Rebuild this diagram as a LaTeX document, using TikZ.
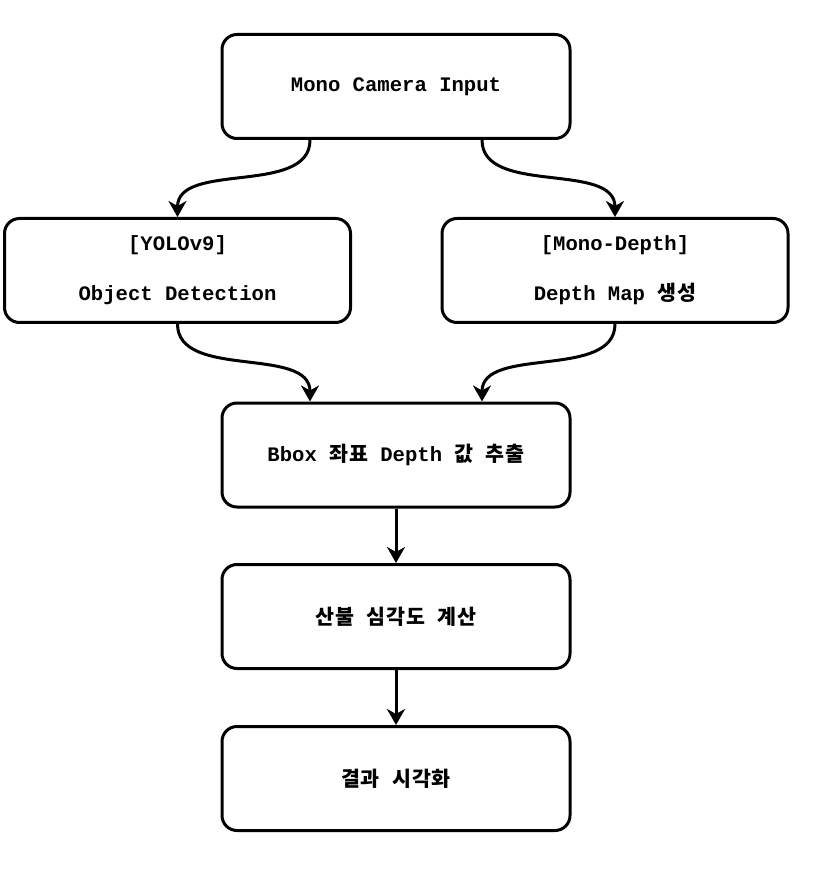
\documentclass[tikz,border=0pt]{standalone}
\usepackage{fontspec}
\setmonofont{Liberation Mono}
\newfontfamily\krfont{Noto Sans CJK KR}[LetterSpace=4]
\newcommand{\ko}[1]{{\krfont\bfseries #1}}
\usetikzlibrary{arrows.meta,positioning}

\begin{document}
\begin{tikzpicture}[
    x=0.5pt, y=0.5pt,
    font=\fontsize{10.3}{25}\selectfont\ttfamily\bfseries,
    stage/.style={draw, line width=1.5pt, rounded corners=7.5pt, align=center,
                  minimum width=174pt, minimum height=52pt, inner sep=0pt},
    branch/.style={stage, minimum width=173pt},
    flow/.style={line width=1.5pt, -{Stealth[length=8pt, width=9pt, inset=2.5pt]}}
  ]
  \useasboundingbox (0,0) rectangle (822,-876);

  % --- Stages ---
  \node[stage] (cam) at (396,-86.5) {Mono Camera Input};

  \node[branch] (yolo)  at (177.5,-270.5) {[YOLOv9]\\Object Detection};
  \node[branch] (depth) at (615,-270.5) {[Mono-Depth]\\Depth Map \ko{생성}};

  \node[stage] (bbox)  at (396,-455)   {Bbox \ko{좌표} Depth \ko{값} \ko{추출}};
  \node[stage] (calc)  at (396,-616.5) {\ko{산불} \ko{심각도} \ko{계산}};
  \node[stage] (vis)   at (396,-778.5) {\ko{결과} \ko{시각화}};

  % --- Connections ---
  \draw[flow] ([xshift=-43pt]cam.south) .. controls +(0,-28pt) and +(0,28pt) .. (yolo.north);
  \draw[flow] ([xshift=43pt]cam.south) .. controls +(0,-28pt) and +(0,28pt) .. (depth.north);
  \draw[flow] (yolo.south) .. controls +(0,-28pt) and +(0,28pt) .. ([xshift=-43pt]bbox.north);
  \draw[flow] (depth.south) .. controls +(0,-28pt) and +(0,28pt) .. ([xshift=43pt]bbox.north);
  \draw[flow] (bbox) -- (calc);
  \draw[flow] (calc) -- (vis);

\end{tikzpicture}
\end{document}
